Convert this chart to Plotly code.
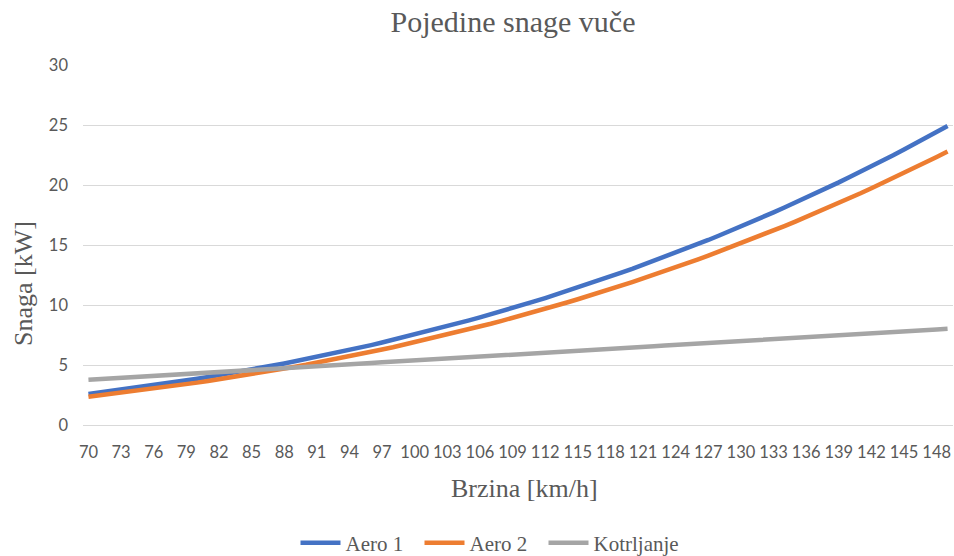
import plotly.graph_objects as go

# Brzina (km/h) – one category per km/h
brzina = list(range(70, 150))

# Snaga otpora zraka, varijanta 1 [kW]
aero_1 = [2.58, 2.70, 2.81, 2.93, 3.05, 3.18, 3.31, 3.44, 3.57, 3.71,
          3.86, 4.00, 4.15, 4.31, 4.46, 4.62, 4.79, 4.96, 5.13, 5.31,
          5.49, 5.67, 5.86, 6.06, 6.25, 6.46, 6.66, 6.87, 7.09, 7.31,
          7.53, 7.76, 7.99, 8.23, 8.47, 8.72, 8.97, 9.22, 9.49, 9.75,
          10.02, 10.30, 10.58, 10.87, 11.16, 11.45, 11.75, 12.06, 12.37, 12.69,
          13.01, 13.34, 13.67, 14.01, 14.36, 14.71, 15.06, 15.42, 15.79, 16.16,
          16.55, 16.93, 17.32, 17.72, 18.12, 18.52, 18.94, 19.37, 19.79, 20.22,
          20.67, 21.10, 21.56, 22.02, 22.48, 22.96, 23.43, 23.92, 24.42, 24.91]

# Snaga otpora zraka, varijanta 2 [kW]
aero_2 = [2.36, 2.47, 2.57, 2.68, 2.79, 2.91, 3.02, 3.15, 3.27, 3.40,
          3.53, 3.66, 3.80, 3.94, 4.08, 4.23, 4.38, 4.54, 4.70, 4.86,
          5.02, 5.19, 5.37, 5.54, 5.72, 5.91, 6.10, 6.29, 6.48, 6.69,
          6.89, 7.10, 7.31, 7.53, 7.75, 7.98, 8.21, 8.44, 8.68, 8.92,
          9.17, 9.42, 9.68, 9.94, 10.21, 10.48, 10.75, 11.04, 11.32, 11.61,
          11.91, 12.21, 12.51, 12.82, 13.14, 13.46, 13.78, 14.11, 14.45, 14.79,
          15.14, 15.49, 15.85, 16.21, 16.58, 16.95, 17.33, 17.72, 18.11, 18.50,
          18.91, 19.31, 19.73, 20.15, 20.57, 21.01, 21.44, 21.89, 22.34, 22.79]

# Snaga otpora kotrljanja [kW]
kotrljanje = [3.77, 3.82, 3.87, 3.93, 3.98, 4.04, 4.09, 4.14, 4.20, 4.25,
              4.30, 4.36, 4.41, 4.47, 4.52, 4.57, 4.63, 4.68, 4.73, 4.79,
              4.84, 4.90, 4.95, 5.00, 5.06, 5.11, 5.16, 5.22, 5.27, 5.33,
              5.38, 5.43, 5.49, 5.54, 5.60, 5.65, 5.70, 5.76, 5.81, 5.86,
              5.92, 5.97, 6.03, 6.08, 6.13, 6.19, 6.24, 6.29, 6.35, 6.40,
              6.46, 6.51, 6.56, 6.62, 6.67, 6.72, 6.78, 6.83, 6.89, 6.94,
              6.99, 7.05, 7.10, 7.16, 7.21, 7.26, 7.32, 7.37, 7.42, 7.48,
              7.53, 7.59, 7.64, 7.69, 7.75, 7.80, 7.85, 7.91, 7.96, 8.02]

# name, values, colour, legend entry width (px)
serije = [("Aero 1", aero_1, "#4472C4", 69),
          ("Aero 2", aero_2, "#ED7D31", 69),
          ("Kotrljanje", kotrljanje, "#A5A5A5", 90)]

x_ticks = brzina[::3]

W, H = 954, 556
L, R, T, B = 83, 1, 65, 131
plot_w, plot_h = W - L - R, H - T - B
TXT = "#595959"
SERIF = "Liberation Serif, Times New Roman, serif"
SANS = "Lato, Carlito, Calibri, sans-serif"

fig = go.Figure()
for ime, vrijednosti, boja, sirina in serije:
    fig.add_trace(go.Scatter(
        x=brzina, y=vrijednosti, name=ime, mode="lines",
        line=dict(color=boja, width=4.5), legendwidth=sirina,
    ))

def px_x(px):
    return (px - L) / plot_w

def px_y(py):
    return (H - B - py) / plot_h

fig.update_layout(
    width=W, height=H,
    margin=dict(l=L, r=R, t=T, b=B),
    paper_bgcolor="white", plot_bgcolor="white",
    title=dict(text="Pojedine snage vuče", font=dict(family=SERIF, size=30, color=TXT),
               xref="container", x=513 / W, xanchor="center",
               yref="container", y=1 - 21 / H, yanchor="middle"),
    legend=dict(orientation="h", xref="container", x=492 / W, xanchor="center",
                yref="container", y=(H - 543) / H, yanchor="middle",
                font=dict(family=SERIF, size=21, color=TXT),
                itemwidth=40, tracegroupgap=0),
    annotations=[
        dict(text="Brzina [km/h]", xref="paper", yref="paper",
             x=px_x(524), y=px_y(488), showarrow=False,
             xanchor="center", yanchor="middle",
             font=dict(family=SERIF, size=26, color=TXT)),
        dict(text="Snaga [kW]", xref="paper", yref="paper",
             x=px_x(23), y=px_y(284), showarrow=False, textangle=-90,
             xanchor="center", yanchor="middle",
             font=dict(family=SERIF, size=26, color=TXT)),
    ],
)

fig.update_xaxes(
    range=[69.5, 149.5], tickmode="array", tickvals=x_ticks,
    ticktext=[str(t) for t in x_ticks],
    showgrid=False, zeroline=False, showline=True, linecolor="#D9D9D9", linewidth=1,
    ticks="", tickfont=dict(family=SANS, size=16.5, color=TXT),
    ticklabelstandoff=12, tickangle=0,
)
fig.update_yaxes(
    range=[0, 30], dtick=5, tick0=0,
    showgrid=True, gridcolor="#D9D9D9", gridwidth=1, zeroline=False,
    showline=False, ticks="", tickfont=dict(family=SANS, size=16.5, color=TXT),
    ticklabelstandoff=14,
)

fig.write_html("out.html")
